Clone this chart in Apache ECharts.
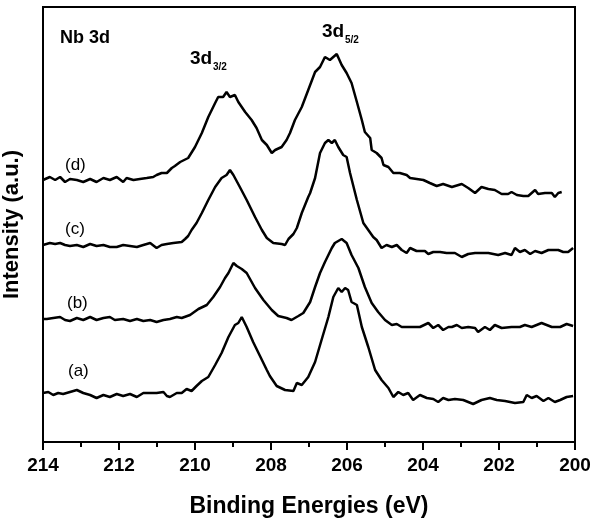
<!DOCTYPE html>
<html>
<head>
<meta charset="utf-8">
<script src="https://cdn.jsdelivr.net/npm/echarts@6/dist/echarts.min.js"></script>
<style>
  html, body { margin: 0; padding: 0; background: #fff; }
  #chart { width: 595px; height: 521px; }
</style>
</head>
<body>
<div id="chart"></div>
<script>
// binding energy (eV), intensity (a.u., curves stacked with offset)
const curveA = [
  [214.00, 49], [213.86, 50], [213.73, 47], [213.60, 49], [213.47, 48], [213.29, 50], [213.11, 52],
  [212.94, 49], [212.76, 47], [212.59, 44], [212.41, 47], [212.24, 45], [212.06, 48], [211.89, 46],
  [211.71, 48], [211.53, 45], [211.36, 49], [211.18, 49], [211.01, 49], [210.83, 50], [210.74, 46],
  [210.66, 45], [210.48, 49], [210.35, 49], [210.22, 53], [210.09, 51], [209.96, 56], [209.82, 61],
  [209.65, 65], [209.47, 77], [209.30, 89], [209.12, 105], [208.95, 117], [208.86, 119], [208.77, 125],
  [208.64, 115], [208.47, 100], [208.29, 86], [208.11, 72], [208.03, 66], [207.85, 56], [207.63, 52],
  [207.41, 51], [207.32, 59], [207.19, 57], [207.02, 65], [206.84, 80], [206.67, 102], [206.49, 125],
  [206.36, 145], [206.23, 154], [206.14, 150], [206.05, 154], [205.97, 152], [205.88, 140], [205.74, 137],
  [205.61, 115], [205.44, 95], [205.26, 72], [205.09, 62], [204.91, 54], [204.78, 45], [204.65, 50],
  [204.52, 47], [204.39, 49], [204.26, 42], [204.08, 47], [203.90, 44], [203.73, 43], [203.60, 40],
  [203.47, 44], [203.33, 42], [203.16, 43], [202.94, 42], [202.68, 38], [202.46, 42], [202.24, 44],
  [202.06, 42], [201.84, 41], [201.58, 39], [201.36, 40], [201.27, 47], [201.14, 44], [201.01, 46],
  [200.83, 41], [200.70, 44], [200.53, 40], [200.39, 42], [200.22, 45], [200.05, 46]
];
const curveB = [
  [214.00, 123], [213.90, 123], [213.73, 124], [213.55, 125], [213.42, 122], [213.29, 121], [213.11, 124],
  [212.94, 122], [212.76, 125], [212.59, 122], [212.41, 124], [212.24, 125], [212.11, 122], [211.89, 123],
  [211.71, 121], [211.53, 123], [211.36, 121], [211.18, 122], [211.01, 120], [210.83, 122], [210.66, 123],
  [210.48, 125], [210.35, 124], [210.13, 127], [209.91, 133], [209.69, 137], [209.52, 145], [209.34, 155],
  [209.21, 164], [209.12, 169], [208.99, 179], [208.90, 176], [208.77, 173], [208.64, 169], [208.42, 154],
  [208.20, 142], [207.98, 132], [207.81, 126], [207.59, 124], [207.46, 122], [207.28, 126], [207.15, 129],
  [206.97, 140], [206.84, 155], [206.71, 169], [206.58, 180], [206.40, 194], [206.32, 199], [206.14, 203],
  [206.01, 199], [205.88, 187], [205.70, 174], [205.53, 155], [205.35, 139], [205.18, 130], [205.00, 122],
  [204.82, 117], [204.69, 118], [204.56, 115], [204.34, 115], [204.08, 115], [203.86, 119], [203.73, 114],
  [203.60, 117], [203.47, 112], [203.33, 115], [203.24, 115], [203.11, 117], [202.98, 114], [202.81, 115],
  [202.63, 114], [202.55, 110], [202.37, 115], [202.24, 112], [202.11, 117], [201.93, 114], [201.67, 115],
  [201.45, 115], [201.32, 117], [201.14, 115], [200.88, 119], [200.61, 115], [200.39, 115], [200.22, 118],
  [200.05, 116]
];
const curveC = [
  [214.00, 197], [213.82, 199], [213.68, 198], [213.55, 199], [213.42, 197], [213.29, 196], [213.11, 197],
  [212.94, 195], [212.76, 198], [212.59, 196], [212.41, 197], [212.24, 195], [212.06, 195], [211.89, 197],
  [211.71, 196], [211.53, 195], [211.36, 197], [211.18, 199], [211.01, 194], [210.88, 197], [210.74, 198],
  [210.57, 199], [210.53, 199], [210.35, 200], [210.26, 203], [210.18, 206], [210.09, 212], [209.96, 219],
  [209.82, 229], [209.65, 242], [209.47, 255], [209.30, 264], [209.17, 267], [209.08, 272], [208.99, 267],
  [208.82, 255], [208.64, 242], [208.42, 225], [208.24, 212], [208.11, 204], [207.94, 199], [207.72, 198],
  [207.63, 197], [207.54, 203], [207.41, 208], [207.32, 214], [207.19, 229], [207.02, 245], [206.97, 249],
  [206.84, 264], [206.71, 289], [206.58, 299], [206.49, 302], [206.40, 299], [206.32, 302], [206.23, 295],
  [206.10, 287], [206.01, 285], [205.92, 269], [205.74, 242], [205.57, 219], [205.44, 212], [205.31, 205],
  [205.22, 202], [205.09, 194], [204.96, 197], [204.82, 195], [204.69, 197], [204.56, 192], [204.43, 189],
  [204.34, 194], [204.17, 191], [203.95, 191], [203.86, 188], [203.73, 190], [203.55, 190], [203.38, 189],
  [203.16, 189], [202.98, 185], [202.81, 188], [202.63, 189], [202.46, 189], [202.28, 189], [202.02, 187],
  [201.84, 189], [201.67, 187], [201.58, 194], [201.45, 190], [201.32, 192], [201.18, 188], [201.05, 191],
  [200.88, 189], [200.70, 192], [200.44, 192], [200.31, 190], [200.18, 190], [200.05, 194]
];
const curveD = [
  [214.00, 262], [213.95, 264], [213.82, 265], [213.68, 262], [213.55, 265], [213.42, 260], [213.29, 263],
  [213.11, 262], [212.94, 260], [212.76, 263], [212.59, 260], [212.41, 264], [212.24, 262], [212.06, 265],
  [211.89, 260], [211.80, 264], [211.62, 262], [211.45, 263], [211.27, 264], [211.10, 265], [211.01, 267],
  [210.88, 269], [210.74, 269], [210.61, 274], [210.53, 276], [210.39, 280], [210.18, 284], [210.00, 295],
  [209.82, 309], [209.65, 325], [209.47, 339], [209.39, 345], [209.34, 347], [209.26, 345], [209.17, 350],
  [209.08, 345], [208.95, 347], [208.86, 340], [208.68, 330], [208.51, 322], [208.38, 314], [208.24, 302],
  [208.11, 297], [207.98, 289], [207.89, 292], [207.72, 295], [207.59, 302], [207.50, 309], [207.37, 322],
  [207.19, 335], [207.02, 352], [206.84, 370], [206.71, 375], [206.58, 385], [206.45, 382], [206.27, 388],
  [206.14, 377], [206.01, 369], [205.88, 359], [205.74, 340], [205.61, 322], [205.53, 310], [205.39, 304],
  [205.35, 292], [205.22, 289], [205.09, 284], [205.04, 277], [204.91, 275], [204.78, 269], [204.61, 269],
  [204.43, 267], [204.34, 264], [203.99, 262], [203.82, 259], [203.64, 256], [203.47, 258], [203.24, 255],
  [202.98, 258], [202.81, 254], [202.63, 249], [202.46, 255], [202.28, 253], [202.11, 252], [201.93, 248],
  [201.76, 248], [201.67, 250], [201.53, 247], [201.36, 246], [201.23, 246], [201.05, 252], [200.97, 248],
  [200.79, 249], [200.61, 249], [200.53, 245], [200.44, 249], [200.35, 250]
];
const curveNames = ['(a)', '(b)', '(c)', '(d)'];

const chart = echarts.init(document.getElementById('chart'));

function line(name, data) {
  return {
    name: name,
    type: 'line',
    data: data,
    showSymbol: false,
    animation: false,
    lineStyle: { color: '#000', width: 2.5 }
  };
}

const font = 'Liberation Sans, Arial, sans-serif';

const option = {
  backgroundColor: '#fff',
  animation: false,
  grid: {
    left: 43, right: 20, top: 7, bottom: 79,
    outerBoundsMode: 'none',
    containLabel: false,
    show: true, borderColor: '#000', borderWidth: 2
  },
  xAxis: {
    type: 'value',
    inverse: true,
    min: 200, max: 214, interval: 2,
    name: 'Binding Energies (eV)',
    nameLocation: 'middle',
    nameGap: 53,
    nameTextStyle: { fontFamily: font, fontWeight: 'bold', fontSize: 23, color: '#000' },
    axisLine: { lineStyle: { color: '#000', width: 2 } },
    axisTick: { show: true, inside: false, length: 8, lineStyle: { color: '#000', width: 2 } },
    minorTick: { show: true, splitNumber: 2, length: 5, lineStyle: { color: '#000', width: 2 } },
    axisLabel: { fontFamily: font, fontWeight: 'bold', fontSize: 19, color: '#000', margin: 14 },
    splitLine: { show: false }
  },
  yAxis: {
    type: 'value',
    min: 0, max: 435,
    name: 'Intensity (a.u.)',
    nameLocation: 'middle',
    nameGap: 20,
    nameTextStyle: { fontFamily: font, fontWeight: 'bold', fontSize: 22, color: '#000' },
    axisLine: { show: true, lineStyle: { color: '#000', width: 2 } },
    axisTick: { show: false },
    axisLabel: { show: false },
    splitLine: { show: false }
  },
  graphic: [
    { type: 'text', left: 60, top: 29, style: { text: 'Nb 3d', font: 'bold 18px ' + font, fill: '#000' } },
    { type: 'text', left: 190, top: 49, style: { text: '3d', font: 'bold 19px ' + font, fill: '#000' } },
    { type: 'text', left: 213, top: 62, style: { text: '3/2', font: 'bold 10px ' + font, fill: '#000' } },
    { type: 'text', left: 322, top: 22, style: { text: '3d', font: 'bold 19px ' + font, fill: '#000' } },
    { type: 'text', left: 345, top: 35, style: { text: '5/2', font: 'bold 10px ' + font, fill: '#000' } },
    { type: 'text', left: 65, top: 157, style: { text: curveNames[3], font: '17px ' + font, fill: '#000' } },
    { type: 'text', left: 65, top: 221, style: { text: curveNames[2], font: '17px ' + font, fill: '#000' } },
    { type: 'text', left: 67, top: 295, style: { text: curveNames[1], font: '17px ' + font, fill: '#000' } },
    { type: 'text', left: 68, top: 363, style: { text: curveNames[0], font: '17px ' + font, fill: '#000' } }
  ],
  series: [
    line(curveNames[0], curveA),
    line(curveNames[1], curveB),
    line(curveNames[2], curveC),
    line(curveNames[3], curveD)
  ]
};

chart.setOption(option);
</script>
</body>
</html>
